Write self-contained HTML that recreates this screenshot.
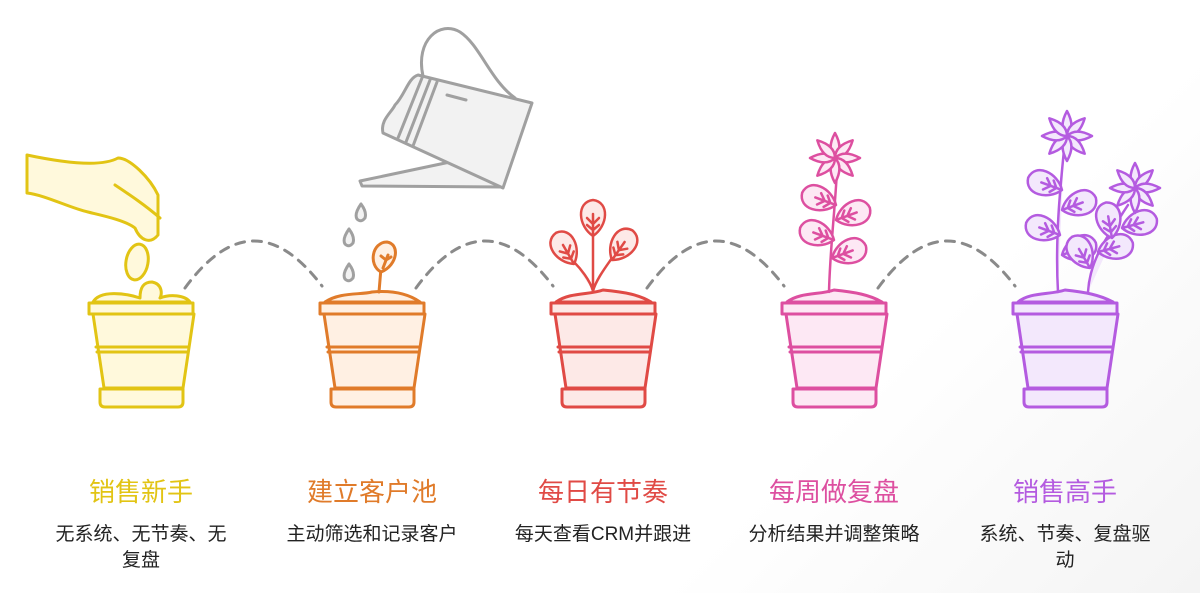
<!DOCTYPE html>
<html><head><meta charset="utf-8"><style>
html,body{margin:0;padding:0;background:#fff;}
body{width:1200px;height:593px;overflow:hidden;position:relative;background:linear-gradient(135deg,#fff 70%,#f4f4f4 100%);}
.t{position:absolute;width:220px;text-align:center;font-family:"Liberation Sans","Noto Sans CJK SC",sans-serif;}
.h{top:472px;font-size:26px;}
.d{top:522px;font-size:19px;color:#222;line-height:26px;}
</style></head><body>
<svg width="1200" height="593" style="position:absolute;left:0;top:0" fill="none" stroke-linejoin="round" stroke-linecap="round">
<defs>
<g id="pot">
<path d="M-48,314 L-37,388 L42,388 L53,314 Z" stroke-width="3"/>
<rect x="-52" y="303" width="104" height="11" stroke-width="3"/>
<path d="M-45,347 L47,347 M-44,352 L47,352" stroke-width="3"/>
<path d="M-41,389 L42,389 L42,402 Q42,407 37,407 L-36,407 Q-41,407 -41,402 Z" stroke-width="3"/>
</g>
<g id="leaf"><path d="M0,0 C-15,-10 -17,-34 0,-36 C17,-34 15,-10 0,0 Z M0,-2 L0,-22 M0,-12 L-6,-18 M0,-12 L6,-18 M0,-6 L-6,-11 M0,-6 L6,-11" stroke-width="2.5"/></g>
<g id="flower"><path d="M0,-25 C6,-14 6,-6 0,0 C-6,-6 -6,-14 0,-25 Z" stroke-width="2.5"/></g>
<g id="fl"><use href="#flower"/><use href="#flower" transform="rotate(45)"/><use href="#flower" transform="rotate(90)"/><use href="#flower" transform="rotate(135)"/><use href="#flower" transform="rotate(180)"/><use href="#flower" transform="rotate(225)"/><use href="#flower" transform="rotate(270)"/><use href="#flower" transform="rotate(315)"/></g>
</defs>
<g stroke="#8a8a8a" stroke-width="3" stroke-dasharray="9 8">
<path d="M185,288 Q253,195 322,286"/>
<path d="M416,288 Q484,195 553,286"/>
<path d="M647,288 Q715,195 784,286"/>
<path d="M878,288 Q946,195 1015,286"/>
</g>
<g stroke="#a0a0a0" stroke-width="3" fill="#f2f2f2">
<path d="M423,76 C415,40 440,20 460,32 C480,45 490,80 515,98" fill="none"/>
<path d="M362,186 L360,181 L450,162 L503,187 Z"/>
<path d="M418,75 L532,103 L503,188 L383,133 C380,120 392,112 395,105 C405,95 408,78 418,75 Z"/>
<path d="M422,78 L398,138 M430,80 L406,142 M437,82 L413,146" fill="none"/>
<path d="M447,95 L466,100" fill="none"/>
<path d="M361,204 Q354,214 357,219 Q361,223 365,218 Q367,212 361,204 Z M349,229 Q342,239 345,244 Q349,248 353,243 Q355,237 349,229 Z M349,264 Q342,274 345,279 Q349,283 353,278 Q355,272 349,264 Z"/>
</g>
<g stroke="#e2c414" fill="#fff9dc">
<path d="M27,155 C60,162 100,168 118,158 C130,158 150,178 158,195 L158,235 C150,245 140,240 135,228 C125,220 100,215 88,212 C70,208 45,195 27,193 Z" stroke-width="3"/>
<path d="M115,185 C130,195 145,205 160,218" stroke-width="3"/>
<ellipse cx="137" cy="262" rx="11" ry="18" transform="rotate(10 137 262)" stroke-width="3"/>
<path d="M93,302 C100,290 125,293 140,298 C140,288 143,282 152,282 C163,284 162,295 160,298 C170,294 185,295 190,302 Z" stroke-width="3"/>
<use href="#pot" transform="translate(141,0)"/>
</g>
<g stroke="#e07b2a" fill="#fff0e3">
<path d="M325,302 C340,292 360,295 372,292 C395,290 410,295 420,302 Z" stroke-width="3"/>
<path d="M379,292 L381,268" stroke-width="3"/>
<path d="M381,272 C368,265 372,242 387,242 C400,244 398,265 381,272 Z M383,268 L388,255 M386,260 L381,256 M386,260 L391,257" stroke-width="3"/>
<use href="#pot" transform="translate(372,0)"/>
</g>
<g stroke="#e04a45" fill="#fde9e7">
<path d="M556,302 C570,292 590,295 603,290 C625,292 640,295 651,302 Z" stroke-width="3"/>
<path d="M593,291 C590,280 580,268 574,262 M593,291 L593,234 M593,291 C596,280 605,268 612,258" stroke-width="2.5"/>
<use href="#leaf" transform="translate(574,264) rotate(-30)"/>
<use href="#leaf" transform="translate(593,236)"/>
<use href="#leaf" transform="translate(612,260) rotate(35)"/>
<use href="#pot" transform="translate(603,0)"/>
</g>
<g stroke="#dd4fa0" fill="#fde8f4">
<path d="M787,302 C800,292 820,295 834,290 C855,292 870,295 882,302 Z" stroke-width="3"/>
<path d="M829,292 C830,250 835,210 837,170" stroke-width="2.5"/>
<use href="#leaf" transform="translate(836,205) rotate(-70)"/>
<use href="#leaf" transform="translate(834,240) rotate(-70)"/>
<use href="#leaf" transform="translate(836,220) rotate(70)"/>
<use href="#leaf" transform="translate(832,258) rotate(70)"/>
<use href="#fl" transform="translate(835,158)"/>
<use href="#pot" transform="translate(834,0)"/>
</g>
<g stroke="#b45be0" fill="#f3e8fc">
<path d="M1018,302 C1030,292 1050,295 1065,290 C1085,292 1100,295 1113,302 Z" stroke-width="3"/>
<path d="M1058,292 C1055,240 1060,190 1064,150 M1088,292 C1090,260 1105,240 1128,205" stroke-width="2.5"/>
<use href="#leaf" transform="translate(1062,190) rotate(-70)"/>
<use href="#leaf" transform="translate(1062,210) rotate(70)"/>
<use href="#leaf" transform="translate(1060,235) rotate(-70)"/>
<use href="#leaf" transform="translate(1062,255) rotate(70)"/>
<use href="#leaf" transform="translate(1090,268) rotate(-30)"/>
<use href="#leaf" transform="translate(1098,252) rotate(75)"/>
<use href="#leaf" transform="translate(1112,238) rotate(-10)"/>
<use href="#leaf" transform="translate(1122,228) rotate(75)"/>
<use href="#fl" transform="translate(1067,136)"/>
<use href="#fl" transform="translate(1135,188)"/>
<use href="#pot" transform="translate(1065,0)"/>
</g>
</svg>
<div class="t h" style="left:31px;color:#e2c414">销售新手</div>
<div class="t d" style="left:46px;width:190px">无系统、无节奏、无<br>复盘</div>
<div class="t h" style="left:262px;color:#e07b2a">建立客户池</div>
<div class="t d" style="left:262px">主动筛选和记录客户</div>
<div class="t h" style="left:493px;color:#e04a45">每日有节奏</div>
<div class="t d" style="left:493px">每天查看CRM并跟进</div>
<div class="t h" style="left:724px;color:#dd4fa0">每周做复盘</div>
<div class="t d" style="left:724px">分析结果并调整策略</div>
<div class="t h" style="left:955px;color:#b45be0">销售高手</div>
<div class="t d" style="left:970px;width:190px">系统、节奏、复盘驱<br>动</div>
</body></html>
